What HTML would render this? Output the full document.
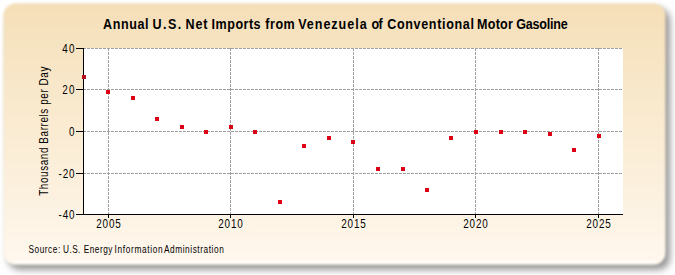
<!DOCTYPE html><html><head><meta charset="utf-8"><style>html,body{margin:0;padding:0;background:#fff;width:675px;height:275px;overflow:hidden}svg{display:block}text{font-family:"Liberation Sans",sans-serif}</style></head><body>
<svg width="675" height="275" viewBox="0 0 675 275">
<defs><linearGradient id="bg" x1="0" y1="0" x2="0" y2="1"><stop offset="0" stop-color="#F5DFB8"/><stop offset="1" stop-color="#FFF8EE"/></linearGradient><filter id="sh" x="-5%" y="-10%" width="110%" height="120%"><feGaussianBlur stdDeviation="3.5"/></filter><filter id="rb" x="-5%" y="-10%" width="110%" height="120%"><feGaussianBlur stdDeviation="1.3"/></filter><filter id="hb" x="-5%" y="-100%" width="110%" height="300%"><feGaussianBlur stdDeviation="0.6"/></filter></defs>
<rect x="8" y="8.5" width="662" height="261.25" rx="12" fill="#6E6E6E" fill-opacity="0.72" filter="url(#sh)"/>
<rect x="3.5" y="3.5" width="662" height="261.25" rx="12" fill="url(#bg)" filter="url(#rb)"/>
<rect x="14" y="260.5" width="642" height="2" fill="#fff" fill-opacity="0.65" filter="url(#hb)"/>
<rect x="83" y="48" width="540" height="166" fill="#fff"/>
<line x1="83" y1="48.5" x2="623" y2="48.5" stroke="#A0A0A0" stroke-width="1" stroke-dasharray="3 1"/>
<line x1="83" y1="89.5" x2="623" y2="89.5" stroke="#A0A0A0" stroke-width="1" stroke-dasharray="3 1"/>
<line x1="83" y1="131.5" x2="623" y2="131.5" stroke="#A0A0A0" stroke-width="1" stroke-dasharray="3 1"/>
<line x1="83" y1="173.5" x2="623" y2="173.5" stroke="#A0A0A0" stroke-width="1" stroke-dasharray="3 1"/>
<line x1="108.5" y1="48" x2="108.5" y2="214" stroke="#A0A0A0" stroke-width="1" stroke-dasharray="3 1"/>
<line x1="230.5" y1="48" x2="230.5" y2="214" stroke="#A0A0A0" stroke-width="1" stroke-dasharray="3 1"/>
<line x1="353.5" y1="48" x2="353.5" y2="214" stroke="#A0A0A0" stroke-width="1" stroke-dasharray="3 1"/>
<line x1="475.5" y1="48" x2="475.5" y2="214" stroke="#A0A0A0" stroke-width="1" stroke-dasharray="3 1"/>
<line x1="598.5" y1="48" x2="598.5" y2="214" stroke="#A0A0A0" stroke-width="1" stroke-dasharray="3 1"/>
<rect x="106" y="90" width="4" height="4" fill="#DD0015"/>
<rect x="131" y="96" width="4" height="4" fill="#DD0015"/>
<rect x="155" y="117" width="4" height="4" fill="#DD0015"/>
<rect x="180" y="125" width="4" height="4" fill="#DD0015"/>
<rect x="204" y="130" width="4" height="4" fill="#DD0015"/>
<rect x="229" y="125" width="4" height="4" fill="#DD0015"/>
<rect x="253" y="130" width="4" height="4" fill="#DD0015"/>
<rect x="278" y="200" width="4" height="4" fill="#DD0015"/>
<rect x="302" y="144" width="4" height="4" fill="#DD0015"/>
<rect x="327" y="136" width="4" height="4" fill="#DD0015"/>
<rect x="351" y="140" width="4" height="4" fill="#DD0015"/>
<rect x="376" y="167" width="4" height="4" fill="#DD0015"/>
<rect x="401" y="167" width="4" height="4" fill="#DD0015"/>
<rect x="425" y="188" width="4" height="4" fill="#DD0015"/>
<rect x="449" y="136" width="4" height="4" fill="#DD0015"/>
<rect x="474" y="130" width="4" height="4" fill="#DD0015"/>
<rect x="499" y="130" width="4" height="4" fill="#DD0015"/>
<rect x="523" y="130" width="4" height="4" fill="#DD0015"/>
<rect x="548" y="132" width="4" height="4" fill="#DD0015"/>
<rect x="572" y="148" width="4" height="4" fill="#DD0015"/>
<rect x="597" y="134" width="4" height="4" fill="#DD0015"/>
<line x1="83.5" y1="48" x2="83.5" y2="215" stroke="#000" stroke-width="1"/>
<line x1="76" y1="214.5" x2="623" y2="214.5" stroke="#000" stroke-width="1"/>
<line x1="76" y1="48.5" x2="83" y2="48.5" stroke="#000" stroke-width="1"/>
<text transform="translate(74.5,52.5) scale(0.9,1.12)" font-size="11" text-anchor="end" fill="#000" textLength="13.59" lengthAdjust="spacing">40</text>
<line x1="76" y1="89.5" x2="83" y2="89.5" stroke="#000" stroke-width="1"/>
<text transform="translate(74.5,93.5) scale(0.9,1.12)" font-size="11" text-anchor="end" fill="#000" textLength="13.59" lengthAdjust="spacing">20</text>
<line x1="76" y1="131.5" x2="83" y2="131.5" stroke="#000" stroke-width="1"/>
<text transform="translate(74.5,135.5) scale(0.9,1.12)" font-size="11" text-anchor="end" fill="#000" textLength="6.80" lengthAdjust="spacing">0</text>
<line x1="76" y1="173.5" x2="83" y2="173.5" stroke="#000" stroke-width="1"/>
<text transform="translate(74.5,177.5) scale(0.9,1.12)" font-size="11" text-anchor="end" fill="#000" textLength="17.66" lengthAdjust="spacing">-20</text>
<line x1="76" y1="214.5" x2="83" y2="214.5" stroke="#000" stroke-width="1"/>
<text transform="translate(74.5,218.5) scale(0.9,1.12)" font-size="11" text-anchor="end" fill="#000" textLength="17.66" lengthAdjust="spacing">-40</text>
<line x1="108.5" y1="215" x2="108.5" y2="218" stroke="#000" stroke-width="1"/>
<text transform="translate(108.5,228) scale(0.9,1.12)" font-size="11" text-anchor="middle" fill="#000" textLength="27.18" lengthAdjust="spacing">2005</text>
<line x1="230.5" y1="215" x2="230.5" y2="218" stroke="#000" stroke-width="1"/>
<text transform="translate(230.5,228) scale(0.9,1.12)" font-size="11" text-anchor="middle" fill="#000" textLength="27.18" lengthAdjust="spacing">2010</text>
<line x1="353.5" y1="215" x2="353.5" y2="218" stroke="#000" stroke-width="1"/>
<text transform="translate(353.5,228) scale(0.9,1.12)" font-size="11" text-anchor="middle" fill="#000" textLength="27.18" lengthAdjust="spacing">2015</text>
<line x1="475.5" y1="215" x2="475.5" y2="218" stroke="#000" stroke-width="1"/>
<text transform="translate(475.5,228) scale(0.9,1.12)" font-size="11" text-anchor="middle" fill="#000" textLength="27.18" lengthAdjust="spacing">2020</text>
<line x1="598.5" y1="215" x2="598.5" y2="218" stroke="#000" stroke-width="1"/>
<text transform="translate(598.5,228) scale(0.9,1.12)" font-size="11" text-anchor="middle" fill="#000" textLength="27.18" lengthAdjust="spacing">2025</text>
<rect x="82" y="75" width="4" height="4" fill="#B8101C"/>
<text transform="translate(103.1,28.6) scale(0.93,1.12)" font-size="13.5" font-weight="bold" fill="#000" textLength="48.91" lengthAdjust="spacing">Annual</text>
<text transform="translate(152.5,28.6) scale(0.93,1.12)" font-size="13.5" font-weight="bold" fill="#000" textLength="30.85" lengthAdjust="spacing">U.S.</text>
<text transform="translate(185.5,28.6) scale(0.93,1.12)" font-size="13.5" font-weight="bold" fill="#000" textLength="23.55" lengthAdjust="spacing">Net</text>
<text transform="translate(211.6,28.6) scale(0.93,1.12)" font-size="13.5" font-weight="bold" fill="#000" textLength="52.67" lengthAdjust="spacing">Imports</text>
<text transform="translate(265.2,28.6) scale(0.93,1.12)" font-size="13.5" font-weight="bold" fill="#000" textLength="31.80" lengthAdjust="spacing">from</text>
<text transform="translate(298.2,28.6) scale(0.93,1.12)" font-size="13.5" font-weight="bold" fill="#000" textLength="73.58" lengthAdjust="spacing">Venezuela</text>
<text transform="translate(371.4,28.6) scale(0.93,1.12)" font-size="13.5" font-weight="bold" fill="#000" textLength="12.09" lengthAdjust="spacing">of</text>
<text transform="translate(387.2,28.6) scale(0.93,1.12)" font-size="13.5" font-weight="bold" fill="#000" textLength="93.23" lengthAdjust="spacing">Conventional</text>
<text transform="translate(477.0,28.6) scale(0.93,1.12)" font-size="13.5" font-weight="bold" fill="#000" textLength="38.61" lengthAdjust="spacing">Motor</text>
<text transform="translate(516.3,28.6) scale(0.93,1.12)" font-size="13.5" font-weight="bold" fill="#000" textLength="55.32" lengthAdjust="spacing">Gasoline</text>
<text transform="translate(48,131.2) rotate(-90) scale(0.9,1.12)" font-size="11" text-anchor="middle" fill="#000" textLength="143.56" lengthAdjust="spacing">Thousand Barrels per Day</text>
<text transform="translate(28.5,253) scale(0.9,1.17)" font-size="9.2" fill="#000" textLength="35.21" lengthAdjust="spacing">Source:</text>
<text transform="translate(63.1,253) scale(0.9,1.17)" font-size="9.2" fill="#000" textLength="19.24" lengthAdjust="spacing">U.S.</text>
<text transform="translate(83.8,253) scale(0.9,1.17)" font-size="9.2" fill="#000" textLength="31.80" lengthAdjust="spacing">Energy</text>
<text transform="translate(114.6,253) scale(0.9,1.17)" font-size="9.2" fill="#000" textLength="53.41" lengthAdjust="spacing">Information</text>
<text transform="translate(164.0,253) scale(0.9,1.17)" font-size="9.2" fill="#000" textLength="66.38" lengthAdjust="spacing">Administration</text>
</svg></body></html>
